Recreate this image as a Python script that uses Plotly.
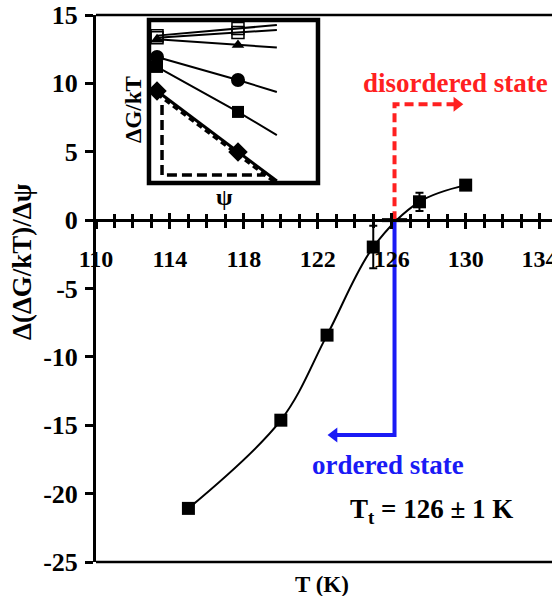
import plotly.graph_objects as go

# ---------------- data ----------------
T_K = [115, 120, 122.5, 125, 127.5, 130]
slope_vals = [-21.08, -14.63, -8.41, -1.97, 1.34, 2.56]
slope_err = [0, 0, 0, 1.55, 0.67, 0]

Tt_x = [126.15]
Tt_y = [0]
Tt_err = [0.68]

disordered_x = [126.15, 126.15, 129.5]
disordered_y = [0, 8.48, 8.48]
disordered_head = [129.52, 8.48]
ordered_x = [126.15, 126.15, 123.0]
ordered_y = [0, -15.72, -15.72]
ordered_head = [122.88, -15.72]

x_ticks = [110, 114, 118, 122, 126, 130, 134]
y_ticks = [15, 10, 5, 0, -5, -10, -15, -20, -25]

# inset
psi = [0, 1, 1.48]
inset_open_a = [9.04, 9.48, 9.69]
inset_open_b = [8.91, 9.23, 9.39]
inset_triangle = [8.82, 8.46, 8.31]
inset_circle = [7.73, 6.32, 5.58]
inset_square = [7.12, 4.36, 2.94]
inset_diamond = [5.64, 1.90, 0.12]
guide_psi = [0.062, 0.062, 1.333]
guide_val = [4.79, 0.49, 0.49]

FONT = "Times New Roman"
RED = "#FF2020"
BLUE = "#1A1AF5"

fig = go.Figure()

# main curve with markers and error bars
fig.add_trace(go.Scatter(
    x=T_K, y=slope_vals, mode="lines+markers",
    line=dict(color="black", width=2, shape="spline", smoothing=1.0),
    marker=dict(symbol="square", size=13, color="black", opacity=1),
    error_y=dict(type="data", array=slope_err, color="black", thickness=2, width=4, visible=True),
    showlegend=False, xaxis="x", yaxis="y"))

# horizontal uncertainty at transition
fig.add_trace(go.Scatter(
    x=Tt_x, y=Tt_y, mode="markers", marker=dict(size=1, color="rgba(0,0,0,0)"),
    error_x=dict(type="data", array=Tt_err, color="black", thickness=4, width=0),
    showlegend=False, xaxis="x", yaxis="y"))

# state guide lines and arrow heads
fig.add_trace(go.Scatter(x=disordered_x, y=disordered_y, mode="lines",
                         line=dict(color=RED, width=4, dash="9px,5px"),
                         showlegend=False, xaxis="x", yaxis="y"))
fig.add_trace(go.Scatter(x=[disordered_head[0]], y=[disordered_head[1]], mode="markers",
                         marker=dict(symbol="triangle-right", size=13, color=RED, opacity=1),
                         showlegend=False, xaxis="x", yaxis="y"))
fig.add_trace(go.Scatter(x=ordered_x, y=ordered_y, mode="lines",
                         line=dict(color=BLUE, width=4),
                         showlegend=False, xaxis="x", yaxis="y"))
fig.add_trace(go.Scatter(x=[ordered_head[0]], y=[ordered_head[1]], mode="markers",
                         marker=dict(symbol="triangle-left", size=13, color=BLUE, opacity=1),
                         showlegend=False, xaxis="x", yaxis="y"))

# inset traces
def inset_line(vals, symbol, size, width=2):
    fig.add_trace(go.Scatter(
        x=psi, y=vals, mode="lines+markers",
        line=dict(color="black", width=width),
        marker=dict(symbol=symbol, size=[size, size, 0], color="black", opacity=1,
                    line=dict(color="black", width=1.5 if "open" in symbol else 0)),
        showlegend=False, xaxis="x3", yaxis="y3"))

inset_line(inset_triangle, "triangle-up", 11)
inset_line(inset_open_b, "square-open", 12)
inset_line(inset_open_a, "square-open", 12)
inset_line(inset_circle, "circle", 14)
inset_line(inset_square, "square", 12)
inset_line(inset_diamond, "diamond", 15, width=3)
fig.add_trace(go.Scatter(
    x=psi, y=[v - 0.18 for v in inset_diamond], mode="lines",
    line=dict(color="black", width=3, dash="6px,4px"),
    showlegend=False, xaxis="x3", yaxis="y3"))
fig.add_trace(go.Scatter(
    x=guide_psi, y=guide_val, mode="lines",
    line=dict(color="black", width=3.5, dash="10px,5px"),
    showlegend=False, xaxis="x3", yaxis="y3"))

xtickfont = dict(family=FONT, size=24, color="black", weight="bold")
ytickfont = dict(family=FONT, size=26, color="black", weight="bold")

fig.update_layout(
    template="none",
    width=552, height=596,
    margin=dict(l=96, r=0, t=15, b=34),
    paper_bgcolor="white", plot_bgcolor="white",
    showlegend=False,
    font=dict(family=FONT, color="black"),
    xaxis=dict(
        range=[110, 134.67], anchor="free", position=25 / 40,
        showline=True, linecolor="black", linewidth=2.5,
        tickmode="array", tickvals=x_ticks, ticktext=[str(t) for t in x_ticks],
        ticks="outside", ticklen=7, tickwidth=2.5, tickcolor="black",
        minor=dict(dtick=1, tick0=110, ticks="outside", ticklen=6, tickwidth=2.5, tickcolor="black"),
        tickfont=xtickfont, ticklabelstandoff=9, ticklabeloverflow="allow",
        showgrid=False, zeroline=False, automargin=False),
    xaxis2=dict(
        range=[110, 134.67], overlaying="x", anchor="free", position=25 / 40,
        showline=False, showticklabels=False,
        tickmode="array", tickvals=x_ticks,
        ticks="inside", ticklen=7, tickwidth=2.5, tickcolor="black",
        minor=dict(dtick=1, tick0=110, ticks="inside", ticklen=6, tickwidth=2.5, tickcolor="black"),
        showgrid=False, zeroline=False, automargin=False),
    yaxis=dict(
        range=[-25, 15], tickmode="array", tickvals=y_ticks,
        ticktext=[str(t) for t in y_ticks],
        showline=True, linecolor="black", linewidth=3,
        ticks="outside", ticklen=8, tickwidth=2.5, tickcolor="black",
        tickfont=ytickfont, ticklabelstandoff=2, ticklabeloverflow="allow",
        showgrid=False, zeroline=False, automargin=False),
    xaxis3=dict(domain=[0.1162, 0.4868], range=[-0.099, 1.988], anchor="y3",
                visible=False, showgrid=False, zeroline=False),
    yaxis3=dict(domain=[0.6929, 0.9909], range=[0, 10], anchor="x3",
                visible=False, showgrid=False, zeroline=False),
)

# empty trace to activate xaxis2
fig.add_trace(go.Scatter(x=[None], y=[None], xaxis="x2", yaxis="y", showlegend=False))

# frame lines (top and bottom) and inset box
fig.add_shape(type="line", xref="paper", yref="paper", x0=0, x1=1, y0=1, y1=1,
              line=dict(color="black", width=2.5))
fig.add_shape(type="line", xref="paper", yref="paper", x0=0, x1=1, y0=0, y1=0,
              line=dict(color="black", width=2.5))
fig.add_shape(type="rect", xref="paper", yref="paper", x0=0.1162, x1=0.4868,
              y0=0.6929, y1=0.9909, line=dict(color="black", width=4.5), layer="above")

# texts
def text(x, y, s, size=27, color="black", angle=0, ref="data"):
    r = "x" if ref == "data" else "paper"
    ry = "y" if ref == "data" else "paper"
    fig.add_annotation(x=x, y=y, xref=r, yref=ry, text=s, showarrow=False,
                       xanchor="center", yanchor="middle", textangle=angle,
                       font=dict(family=FONT, size=size, weight="bold", color=color))

text(129.43, 10.0, "disordered state", color=RED)
text(125.8, -17.9, "ordered state", color=BLUE)
text(128.13, -21.3, "T<sub>t</sub> = 126 ± 1 K")
text((322 - 96) / 456, -(584 - 562) / 547, "T (K)", size=23, ref="paper")
text(-(96 - 22) / 456, (562 - 262) / 547, "Δ(ΔG/kT)/Δψ", angle=-90, ref="paper")
text((133 - 96) / 456, (562 - 110) / 547, "ΔG/kT", size=23, angle=-90, ref="paper")
text((224 - 96) / 456, (562 - 197) / 547, "ψ", size=24, ref="paper")

fig.write_html("out.html")
